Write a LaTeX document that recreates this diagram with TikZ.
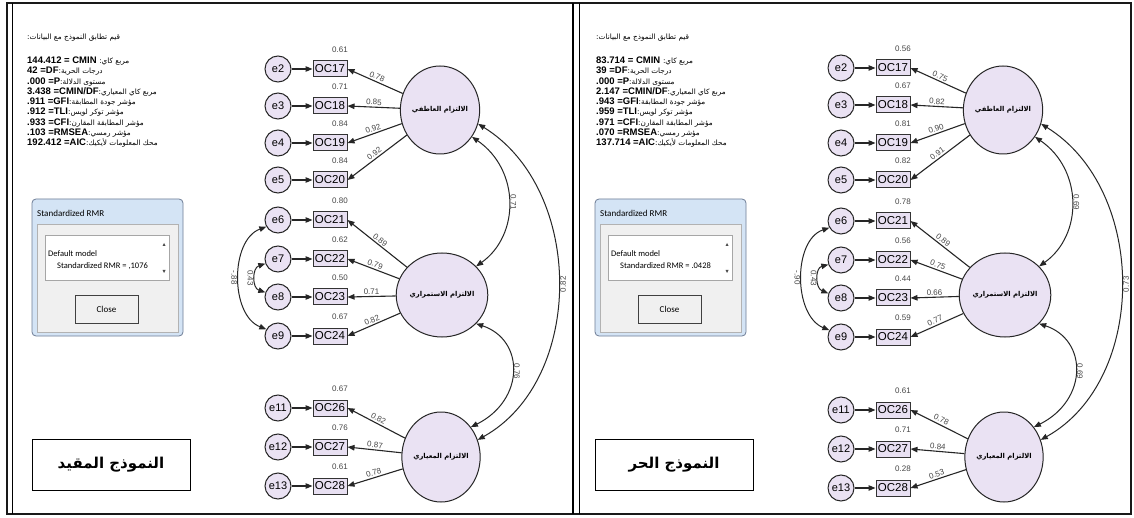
\documentclass[tikz,border=0pt]{standalone}
\usepackage{fontspec}
\setmainfont{Liberation Sans}
\newfontfamily\arabicfont[Script=Arabic]{DejaVu Sans}
\newfontfamily\calib{Carlito}
\TeXXeTstate=1
\usetikzlibrary{arrows.meta,shapes.geometric}
\definecolor{lav}{RGB}{234,226,243}
\definecolor{boxfill}{RGB}{232,224,242}
\definecolor{lbl}{RGB}{70,70,70}
\definecolor{dlgblue}{RGB}{212,228,245}
\definecolor{dlgedge}{RGB}{110,125,150}
\definecolor{dlginner}{RGB}{240,240,240}
\newcommand\ar[1]{{\arabicfont\mdseries\fontsize{7.3}{8}\selectfont\beginR #1\endR}}
\tikzset{
  errc/.style={circle, draw=black!85, line width=1pt, fill=lav, minimum size=26pt, inner sep=0pt, font=\fontsize{11}{11}\selectfont},
  obs/.style={rectangle, draw=black!80, line width=1pt, fill=boxfill, minimum width=34pt, minimum height=16pt, inner sep=1pt, font=\fontsize{11.5}{11.5}\selectfont},
  lat/.style={ellipse, draw=black!85, line width=1pt, fill=lav, minimum width=72pt, minimum height=88pt, inner sep=0pt, font=\arabicfont\bfseries\fontsize{6.8}{7}\selectfont},
  conn/.style={line width=1.1pt, draw=black!85, -{Triangle[length=7pt,width=5.5pt]}},
  cov/.style={line width=1pt, draw=black!85, {Triangle[length=7pt,width=5.5pt]}-{Triangle[length=7pt,width=5.5pt]}},
  num/.style={font=\fontsize{8}{8}\selectfont, text=lbl, inner sep=1.5pt},
  stat/.style={anchor=west, inner sep=0pt, font=\fontsize{9.5}{10}\selectfont\bfseries},
  dlgtext/.style={anchor=west, inner sep=0pt, font=\calib\fontsize{9}{10}\selectfont},
  modelbox/.style={draw, line width=1pt, minimum width=158pt, minimum height=51pt, font=\arabicfont\bfseries\fontsize{15}{16}\selectfont},
  frame/.style={line width=1.6pt, draw=black!90},
}
\newcommand\drawpanel[1]{%
  % fit statistics
  \node[stat] (#1title) at (\sx,38) {\ar{قيم تطابق النموذج مع البيانات:}};
  \node[stat] (#1s1) at (\sx,61) {\vA\ \ar{مربع كاي:}};
  \node[stat] (#1s2) at (\sx,71.3) {\vB\ar{درجات الحرية:}};
  \node[stat] (#1s3) at (\sx,81.6) {\vC\ar{مستوى الدلالة:}};
  \node[stat] (#1s4) at (\sx,91.9) {\vD\ar{مربع كاي المعياري:}};
  \node[stat] (#1s5) at (\sx,102.2) {\vE\ar{مؤشر جودة المطابقة:}};
  \node[stat] (#1s6) at (\sx,112.5) {\vF\ar{مؤشر توكر لويس:}};
  \node[stat] (#1s7) at (\sx,122.8) {\vG\ar{مؤشر المطابقة المقارن:}};
  \node[stat] (#1s8) at (\sx,133.1) {\vH\ar{مؤشر رمسي:}};
  \node[stat] (#1s9) at (\sx,143.4) {\vI\ar{محك المعلومات لأيكيك:}};
  % dialog
  \draw[dlgedge, fill=dlgblue, rounded corners=4pt, line width=0.8pt] (32,199) rectangle (183,336);
  \node[dlgtext] (#1dlgt) at (37,213) {Standardized RMR};
  \draw[draw=gray!60, fill=dlginner] (37,224) rectangle (178,332);
  \draw[draw=gray!70, fill=white] (45,235) rectangle (169,280);
  \fill[black!70] (162.5,246) -- (165.5,246) -- (164,243) -- cycle;
  \fill[black!70] (162.5,270) -- (165.5,270) -- (164,273) -- cycle;
  \node[dlgtext, font=\calib\fontsize{8.5}{9}\selectfont] (#1dm) at (48,254) {Default model};
  \node[dlgtext, font=\calib\fontsize{8.5}{9}\selectfont] (#1dv) at (57,266) {Standardized RMR = \rmr};
  \node[draw=black!75, line width=0.9pt, fill=gray!12, minimum width=63pt, minimum height=28pt, font=\calib\fontsize{9}{10}\selectfont] (#1close) at (106.5,309) {Close};
  % model name
  \node[modelbox] (#1model) at (111,465) {\beginR\modelname\endR};
  % error terms and observed variables
  \foreach \n/\y/\sm/\ld/\lt in \rows {%
    \node[errc] (#1e\n) at (278,\y) {e\n};
    \pgfmathtruncatemacro\oc{\n+15}
    \node[obs] (#1oc\n) at (330,\y) {OC\oc};
    \node[num] at ([xshift=10pt,yshift=11pt]#1oc\n.north) {\sm};
    \draw[conn] (#1e\n) -- (#1oc\n);
  }
  % latent variables
  \node[lat] (#1top) at (440,110) {\beginR الالتزام العاطفي\endR};
  \node[lat, minimum height=84pt] (#1mid) at (442,295) {\beginR الالتزام الاستمراري\endR};
  \node[lat, minimum width=74pt, minimum height=90pt] (#1bot) at (441,457) {\beginR الالتزام المعياري\endR};
  % loadings
  \foreach \n/\y/\sm/\ld/\lt in \rows {%
    \draw[conn] (#1\lt) -- node[num, sloped, above, pos=0.5] {\ld} (#1oc\n.east);
  }
  % covariances between latent variables
  \draw[cov] (#1top.-40) .. controls (520,170) and (520,235) .. node[num, pos=0.5, rotate=-90, anchor=south] {\covA} (#1mid.40);
  \draw[cov] (#1top.-20) .. controls (585,190) and (585,380) .. node[num, pos=0.5, rotate=90, anchor=north] {\covB} (#1bot.25);
  \draw[cov] (#1mid.-40) .. controls (525,340) and (525,400) .. node[num, pos=0.5, rotate=-90, anchor=south] {\covC} (#1bot.45);
  % residual covariances
  \draw[cov] (#1e6.210) .. controls (230,240) and (230,315) .. node[num, pos=0.5, rotate=-90, anchor=north] {\resB} (#1e9.150);
  \draw[cov] (#1e7.200) .. controls (252,268) and (252,288) .. node[num, pos=0.5, rotate=-90, anchor=north] {\resA} (#1e8.160);
}
\begin{document}
\begin{tikzpicture}[x=1pt, y=-1pt]
\useasboundingbox (0,0) rectangle (1134,518);
\fill[white] (0,0) rectangle (1134,518);
% table frame
\draw[frame] (7,3) rectangle (1131,514);
\draw[line width=1pt] (12,3) -- (12,514);
\draw[line width=1.4pt] (573,3) -- (573,514);
\draw[line width=1pt] (579,3) -- (579,514);
% left panel
\def\sx{27}
\def\vA{144.412 = CMIN}\def\vB{42 =DF}\def\vC{.000 =P}\def\vD{3.438 =CMIN/DF}
\def\vE{.911 =GFI}\def\vF{.912 =TLI}\def\vG{.933 =CFI}\def\vH{.103 =RMSEA}\def\vI{192.412 =AIC}
\def\rmr{,1076}
\def\modelname{النموذج المقيد}
\def\covA{0.71}\def\covB{0.82}\def\covC{0.76}
\def\resA{0.43}\def\resB{-.88}
\def\rows{2/69/0.61/0.78/top, 3/106/0.71/0.85/top, 4/143/0.84/0.92/top, 5/180/0.84/0.92/top, 6/220/0.80/0.89/mid, 7/259/0.62/0.79/mid, 8/297/0.50/0.71/mid, 9/336/0.67/0.82/mid, 11/408/0.67/0.82/bot, 12/447/0.76/0.87/bot, 13/486/0.61/0.78/bot}
\drawpanel{L}
% right panel
\begin{scope}[xshift=563pt]
\def\sx{33}
\def\vA{83.714 = CMIN}\def\vB{39 =DF}\def\vC{.000 =P}\def\vD{2.147 =CMIN/DF}
\def\vE{.943 =GFI}\def\vF{.959 =TLI}\def\vG{.971 =CFI}\def\vH{.070 =RMSEA}\def\vI{137.714 =AIC}
\def\rmr{.0428}
\def\modelname{النموذج الحر}
\def\covA{0.69}\def\covB{0.73}\def\covC{0.69}
\def\resA{0.43}\def\resB{-.90}
\def\rows{2/68/0.56/0.75/top, 3/105/0.67/0.82/top, 4/143/0.81/0.90/top, 5/180/0.82/0.91/top, 6/221/0.78/0.89/mid, 7/260/0.56/0.75/mid, 8/298/0.44/0.66/mid, 9/337/0.59/0.77/mid, 11/410/0.61/0.78/bot, 12/449/0.71/0.84/bot, 13/488/0.28/0.53/bot}
\drawpanel{R}
\end{scope}
\end{tikzpicture}
\end{document}
